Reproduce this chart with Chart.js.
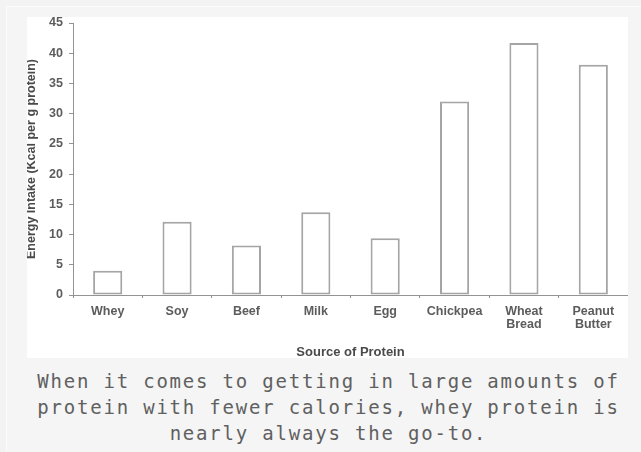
<!DOCTYPE html>
<html>
<head>
<meta charset="utf-8">
<script src="https://cdn.jsdelivr.net/npm/chart.js@4/dist/chart.umd.min.js"></script>
<style>
  html, body { margin: 0; padding: 0; }
  body { width: 641px; height: 452px; background: #f3f3f3; position: relative; overflow: hidden; }
  #panel { position: absolute; left: 6px; top: 6px; right: -10px; bottom: -10px;
    border-top: 1px solid #fcfcfc; border-left: 1px solid #fcfcfc; background: #f5f5f5; }
  #chartBox { position: absolute; left: 27px; top: 17px; width: 601px; height: 341px; background: #fff; }
  #caption { position: absolute; left: 27px; top: 368px; width: 603px; text-align: center;
    font-family: "DejaVu Sans Mono", monospace; font-size: 19px; letter-spacing: 1.8px;
    line-height: 26px; color: #606060; }
</style>
</head>
<body>
<div id="panel"></div>
<div id="chartBox"><canvas id="proteinChart" width="601" height="341"></canvas></div>
<div id="caption">When it comes to getting in large amounts of protein with fewer calories, whey protein is nearly always the go-to.</div>

<script>
// data
var sources = ['Whey', 'Soy', 'Beef', 'Milk', 'Egg', 'Chickpea', ['Wheat', 'Bread'], ['Peanut', 'Butter']];
var energyPerGram = [4, 12.1, 8.2, 13.7, 9.4, 32, 41.7, 38.1];
var yTicks = [0, 5, 10, 15, 20, 25, 30, 35, 40, 45];

var axisGray = '#939393';
var textGray = '#5c5c5c';
var labelFont = 'Liberation Sans, Arial';

var ctx = document.getElementById('proteinChart').getContext('2d');
new Chart(ctx, {
  type: 'bar',
  data: {
    labels: sources,
    datasets: [{
      data: energyPerGram,
      backgroundColor: '#fff',
      borderColor: '#a5a5a5',
      borderWidth: 2,
      borderSkipped: false,
      barPercentage: 0.42,
      categoryPercentage: 1
    }]
  },
  options: {
    responsive: false,
    animation: false,
    layout: { padding: 0 },
    plugins: { legend: { display: false }, tooltip: { enabled: false } },
    scales: {
      x: {
        grid: { drawOnChartArea: false, drawTicks: true, tickLength: 3, color: axisGray, offset: true },
        border: { display: true, color: axisGray, width: 1 },
        ticks: { color: textGray, padding: 7, maxRotation: 0, autoSkip: false,
          font: { family: labelFont, size: 12.5, weight: 'bold', lineHeight: 1.05 } },
        title: { display: true, text: 'Source of Protein', color: '#4a4a4a', padding: 0,
          font: { family: labelFont, size: 13, weight: 'bold', lineHeight: 0.8 } },
        afterFit: function(scale) { scale.height = 63; scale.paddingLeft = 0; scale.paddingRight = 0; }
      },
      y: {
        min: 0,
        max: 45,
        grid: { drawOnChartArea: false, drawTicks: true, tickLength: 4, color: axisGray },
        border: { display: true, color: axisGray, width: 1 },
        afterBuildTicks: function(scale) { scale.ticks = yTicks.map(function(v) { return { value: v }; }); },
        ticks: { color: textGray, padding: 6,
          font: { family: labelFont, size: 12.5, weight: 'bold', lineHeight: 1 } },
        title: { display: true, text: 'Energy Intake (Kcal per g protein)', color: '#4a4a4a', padding: 0,
          font: { family: labelFont, size: 12.5, weight: 'bold', lineHeight: 0.8 } },
        afterFit: function(scale) { scale.width = 46; scale.paddingTop = 6; scale.paddingBottom = 0; }
      }
    }
  }
});
</script>
</body>
</html>
